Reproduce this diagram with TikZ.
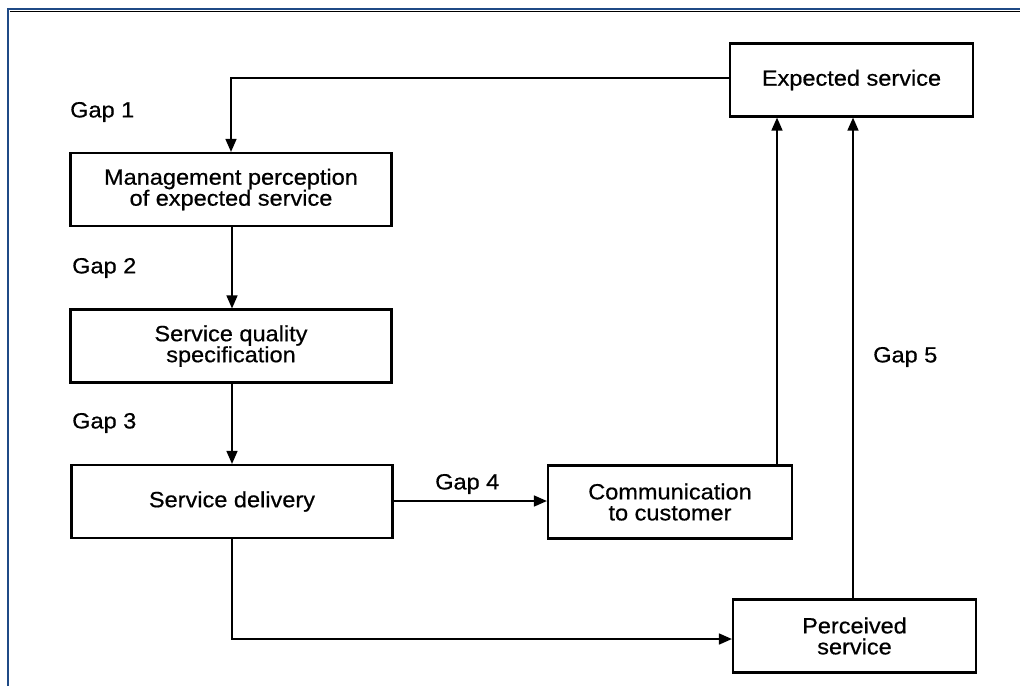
\documentclass[tikz,border=0pt]{standalone}
\usepackage{fontspec}
\setmainfont{Liberation Sans}[FakeStretch=1.07,FakeBold=0.6]
\usetikzlibrary{arrows.meta}
\definecolor{framebl}{HTML}{1F4A86}
\begin{document}
\begin{tikzpicture}[x=1pt,y=-1pt,
  box/.style={draw,line width=2.2pt,minimum height=73pt,align=center,font=\fontsize{22}{21}\selectfont,inner sep=0pt},
  gaplbl/.style={font=\fontsize{22}{21}\selectfont,inner sep=0pt},
  conn/.style={line width=1.6pt},
  arr/.style={conn,-{Triangle[length=13pt,width=11pt]}}]
\useasboundingbox (0,0) rectangle (1020,686);
\fill[white] (0,0) rectangle (1020,686);
% frame
\draw[framebl,line width=2.5pt] (8,686) -- (8,9) -- (1020,9);
\draw[black,line width=1.3pt] (9.5,11.5) -- (1020,11.5);
% boxes
\node[box,minimum width=243pt] (exp) at (851.5,80) {Expected service};
\node[box,minimum width=321pt] (mgmt) at (231,189.5) {Management perception\\of expected service};
\node[box,minimum width=321pt] (sqs) at (231,346) {Service quality\\specification};
\node[box,minimum width=321pt] (del) at (232,501.5) {Service delivery};
\node[box,minimum width=244pt] (comm) at (670,502) {Communication\\to customer};
\node[box,minimum width=243pt] (perc) at (854.5,636) {Perceived\\service};
% labels
\node[gaplbl,anchor=west] (g1) at (70,112) {Gap 1};
\node[gaplbl,anchor=west] (g2) at (72,268) {Gap 2};
\node[gaplbl,anchor=west] (g3) at (72,423) {Gap 3};
\node[gaplbl,anchor=west] (g4) at (435,484) {Gap 4};
\node[gaplbl,anchor=west] (g5) at (873,357) {Gap 5};
% connectors
\coordinate (c1) at (231,78);
\draw[arr] (exp.west |- c1) -- (c1) -- (mgmt.north -| c1);
\draw[arr] (mgmt.south -| 232,0) -- (sqs.north -| 232,0);
\draw[arr] (sqs.south -| 232,0) -- (del.north -| 232,0);
\draw[arr] (del.east |- 0,501) -- (comm.west |- 0,501);
\coordinate (c2) at (232,639);
\draw[arr] (del.south -| c2) -- (c2) -- (perc.west |- c2);
\draw[arr] (comm.north -| 777,0) -- (exp.south -| 777,0);
\draw[arr] (perc.north -| 853,0) -- (exp.south -| 853,0);
\end{tikzpicture}
\end{document}
